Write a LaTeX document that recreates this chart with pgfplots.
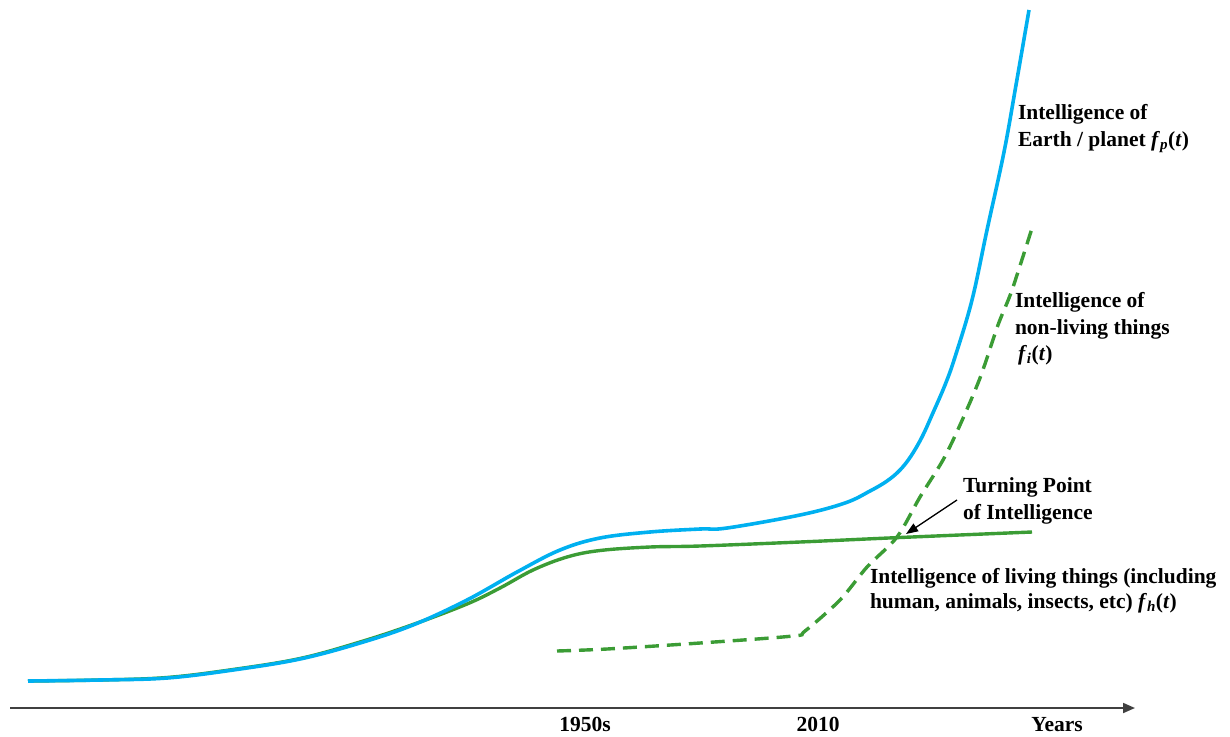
\documentclass[border=0pt]{standalone}
\usepackage{fontspec}
\setmainfont{Liberation Serif}
\usepackage{pgfplots}
\pgfplotsset{compat=1.18}
\usetikzlibrary{arrows.meta}
\definecolor{cblue}{HTML}{00B0F0}
\definecolor{cgreen}{HTML}{3B9C35}
\definecolor{caxis}{HTML}{404040}
\newcommand{\fx}[1]{\textbf{\textit{f}}\textsubscript{\textbf{\textit{#1}}}\textbf{(\textit{t})}}
\tikzset{lbl/.style={font=\fontsize{21.5}{26}\selectfont\bfseries, inner sep=0pt, outer sep=0pt}}
\begin{document}
\begin{tikzpicture}
\begin{axis}[
  scale only axis, width=1230pt, height=736pt,
  xmin=0, xmax=1230, ymin=0, ymax=736, y dir=reverse,
  axis lines=none, clip=false,
]
\path (rel axis cs:0,0) rectangle (rel axis cs:1,1);
% x axis
\addplot[caxis, line width=1.8pt, -{Triangle[length=12pt,width=10pt]}] coordinates {(10,708) (1135,708)};
% living things
\addplot[cgreen, line width=3.4pt, smooth, tension=0.6] coordinates {
(28,681) (100,680) (167,677.5) (233,669.5) (300,658.5) (360,642) (413,624.5) (467,604) (500,588) (533,570) (567,557) (600,550.5) (650,547) (700,546) (800,542) (900,537.5) (1032,532)};
% non-living things
\addplot[cgreen, line width=3.4pt, dash pattern=on 14pt off 8pt, smooth, tension=0.5] coordinates {
(557,651) (607,649) (700,643) (793,636) (805,631) (840,600) (867,567) (897,537) (920,497) (943,460) (960,425) (980,378) (998,325) (1012,290) (1033,225)};
% Earth / planet
\addplot[cblue, line width=3.6pt, smooth, tension=0.6] coordinates {
(28,681) (100,680) (167,678) (233,670) (300,659) (360,643) (413,625) (467,600) (517,572) (560,550) (600,538) (650,532) (700,529) (727,528) (800,515) (845,503) (870,491) (887,481) (900,470) (911,456) (922,437) (932,415) (945,385) (955,357) (972,300) (987,230) (1004,152) (1016,85) (1029,10)};
% arrow
\addplot[black, line width=1.3pt, -{Triangle[length=12pt,width=9pt]}] coordinates {(957,500) (906,534)};
% texts
\node[lbl, anchor=base west] at (axis cs:1018,119) {Intelligence of};
\node[lbl, anchor=base west] at (axis cs:1018,146) {Earth / planet \fx{p}};
\node[lbl, anchor=base west] at (axis cs:1015,307) {Intelligence of};
\node[lbl, anchor=base west] at (axis cs:1015,334) {non-living things};
\node[lbl, anchor=base west] at (axis cs:1018,360) {\fx{i}};
\node[lbl, anchor=base west] at (axis cs:963,492) {Turning Point};
\node[lbl, anchor=base west] at (axis cs:963,519) {of Intelligence};
\node[lbl, anchor=base west] at (axis cs:870,583) {Intelligence of living things (including};
\node[lbl, anchor=base west] at (axis cs:870,608) {human, animals, insects, etc) \fx{h}};
\node[lbl, anchor=base] at (axis cs:585,731) {1950s};
\node[lbl, anchor=base] at (axis cs:818,731) {2010};
\node[lbl, anchor=base] at (axis cs:1057,731) {Years};
\end{axis}
\end{tikzpicture}
\end{document}
